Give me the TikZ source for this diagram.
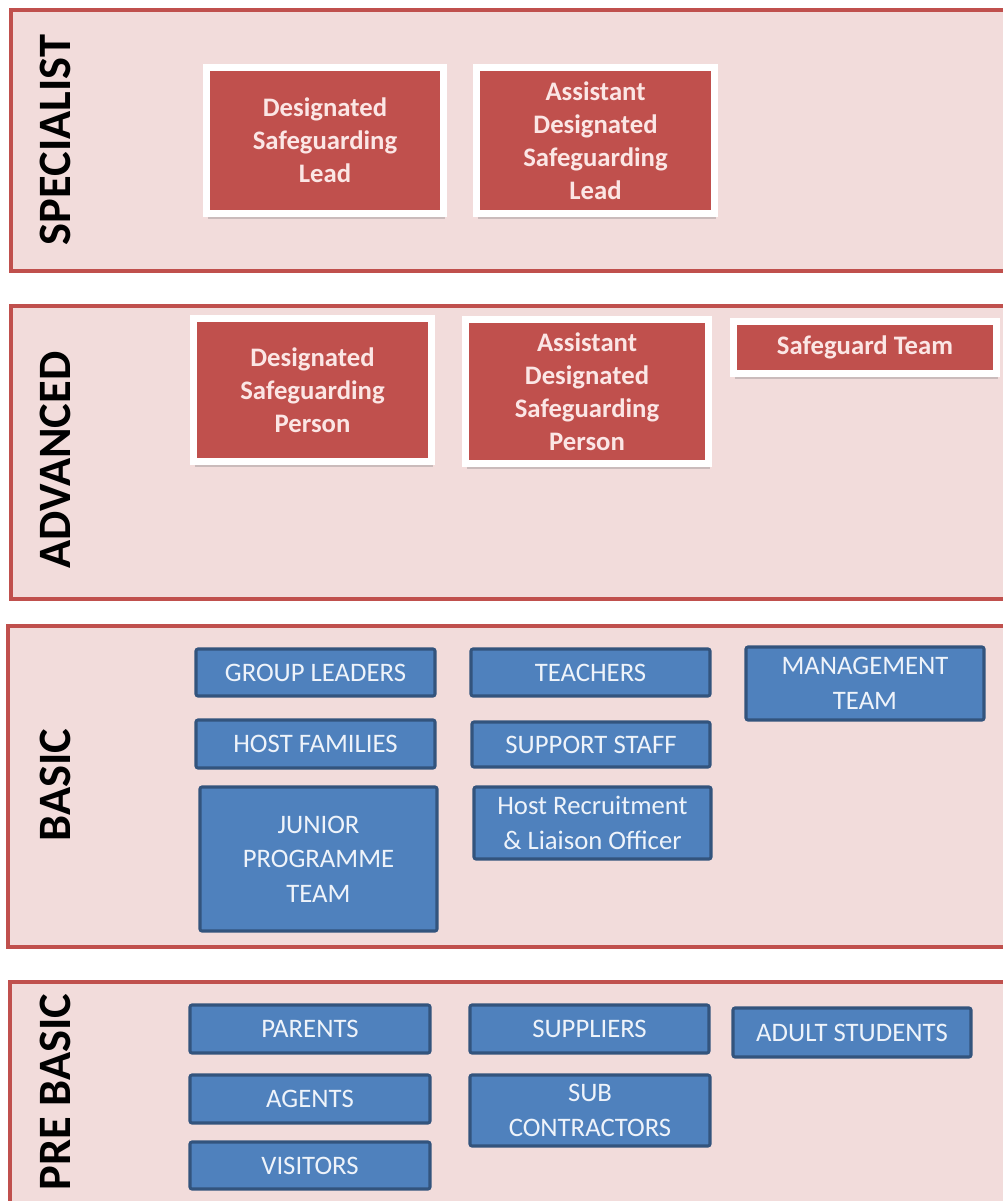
\documentclass[tikz,border=0pt]{standalone}
\usepackage{fontspec}
\setmainfont{Carlito}
\usetikzlibrary{shadows}
\definecolor{colorBandFill}{HTML}{F2DCDB}
\definecolor{colorBandLine}{HTML}{C0504D}
\definecolor{colorRed}{HTML}{C0504D}
\definecolor{colorRedText}{HTML}{FBE6E5}
\definecolor{colorBlue}{HTML}{4F81BD}
\definecolor{colorBlueLine}{HTML}{33547D}
\definecolor{colorBlueText}{HTML}{EEF3FA}
\tikzset{
   band/.style={draw=colorBandLine,line width=2.2pt,fill=colorBandFill},
   level/.style={rotate=90,font=\fontsize{33}{38}\selectfont\bfseries},
   wh/.style 2 args={minimum width=#1*0.025cm,minimum height=#2*0.025cm},
   redbox/.style={draw=white,line width=5pt,fill=colorRed,text=colorRedText,
     align=center,inner sep=0pt,font=\fontsize{19}{23.5}\selectfont\bfseries,
     drop shadow={shadow xshift=0.8pt,shadow yshift=-4pt,opacity=0.35}},
   bluebox/.style={draw=colorBlueLine,line width=2.2pt,fill=colorBlue,
     rounded corners=1.5pt,text=colorBlueText,align=center,inner sep=0pt,
     font=\fontsize{19}{24.5}\selectfont},
 }
\begin{document}
\begin{tikzpicture}[x=0.025cm,y=-0.025cm]
      \useasboundingbox (0,0) rectangle (1003,1201);
      \fill[white] (0,0) rectangle (1003,1201);

      % specialist
      \draw[band] (11,10) rectangle (1012,271);
      \node[level] (lSpec) at (55,140) {SPECIALIST};
      \node[redbox,wh={237}{146}] (DSL) at (325,140.5) {Designated\\Safeguarding\\Lead};
      \node[redbox,wh={238}{146}] (ADSL) at (595.5,140.5) {Assistant\\Designated\\Safeguarding\\Lead};

      % advanced
      \draw[band] (11,306) rectangle (1012,599);
      \node[level] (lAdv) at (55,460) {ADVANCED};
      \node[redbox,wh={238}{143}] (DSP) at (312.5,390) {Designated\\Safeguarding\\Person};
      \node[redbox,wh={243}{144}] (ADSP) at (587,391.5) {Assistant\\Designated\\Safeguarding\\Person};
      \node[redbox,wh={263}{52}] (SGT) at (865,347.5) {Safeguard Team};

      % basic
      \draw[band] (8,626) rectangle (1012,947);
      \node[level] (lBasic) at (55,785) {BASIC};
      \node[bluebox,wh={239}{47}] (GL) at (315.5,672.5) {GROUP LEADERS};
      \node[bluebox,wh={239}{47}] (TCH) at (590.5,672.5) {TEACHERS};
      \node[bluebox,wh={238}{73}] (MGT) at (865,683.5) {MANAGEMENT\\TEAM};
      \node[bluebox,wh={239}{48}] (HF) at (315.5,744) {HOST FAMILIES};
      \node[bluebox,wh={238}{45}] (SS) at (591,744.5) {SUPPORT STAFF};
      \node[bluebox,wh={237}{144}] (JPT) at (318.5,859) {JUNIOR\\PROGRAMME\\TEAM};
      \node[bluebox,wh={237}{72}] (HRL) at (592.5,823) {Host Recruitment\\\& Liaison Officer};

      % pre basic
      \draw[band] (10,982) rectangle (1012,1215);
      \node[level] (lPre) at (55,1092) {PRE BASIC};
      \node[bluebox,wh={240}{48}] (PAR) at (310,1029) {PARENTS};
      \node[bluebox,wh={239}{48}] (SUP) at (589.5,1029) {SUPPLIERS};
      \node[bluebox,wh={238}{49}] (AS) at (852,1032.5) {ADULT STUDENTS};
      \node[bluebox,wh={240}{48}] (AG) at (310,1099) {AGENTS};
      \node[bluebox,wh={240}{71}] (SUB) at (590,1110.5) {SUB\\CONTRACTORS};
      \node[bluebox,wh={240}{47}] (VIS) at (310,1165.5) {VISITORS};
    \end{tikzpicture}
\end{document}
